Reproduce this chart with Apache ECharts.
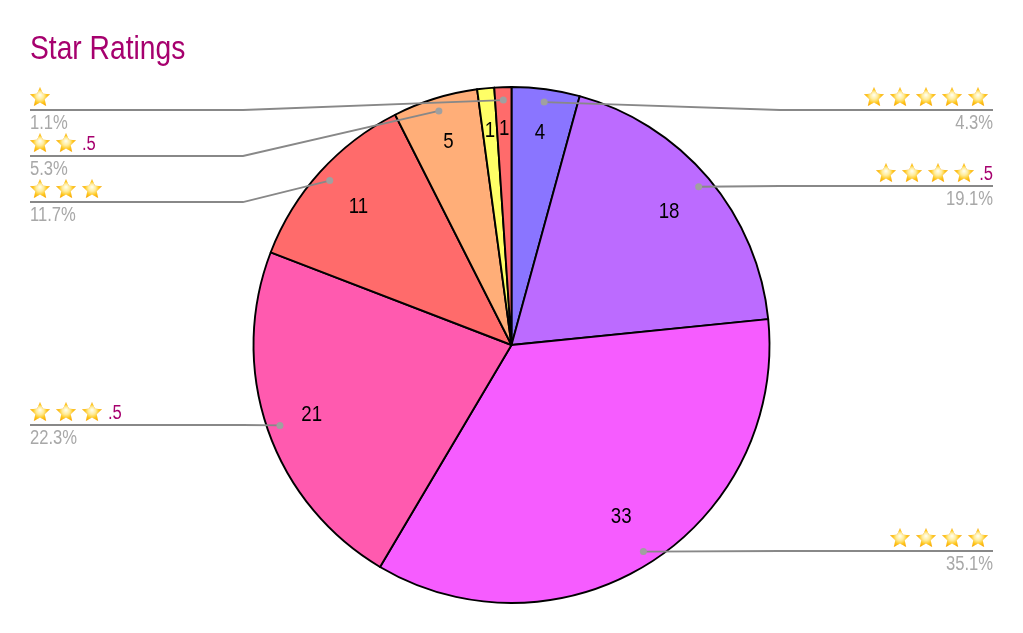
<!DOCTYPE html>
<html>
<head>
<meta charset="utf-8">
<style>html,body{margin:0;padding:0;background:#fff}#c{width:1023px;height:633px}</style>
<script src="https://cdn.jsdelivr.net/npm/echarts@6/dist/echarts.min.js"></script>
</head>
<body>
<div id="c"></div>
<script>
// data
const ratings = ['5', '4.5', '4', '3.5', '3', '2.5', '2', '1'];
const counts = [4, 18, 33, 21, 11, 5, 1, 1];
const sliceColors = ['#8a75ff', '#bc6bff', '#f65cff', '#ff5aaf', '#ff6b6b', '#ffae78', '#ffff66', '#ff6b6b'];
const legendLabelled = [true, true, true, true, true, true, false, true];
const titleText = 'Star Ratings';

// presentation
const FONT = '"Liberation Sans",Arial,sans-serif';
const SQUEEZE = 0.83;
const MAGENTA = '#a6006e';
const center = [511.5, 345], R = 258;
const lineY = [110, 186, 551, 425, 202, 156, 0, 110];
const valueLabelRadius = [0.83, 0.80, 0.79, 0.82, 0.80, 0.825, 0.835, 0.84];

function starCanvas() {
  const S = 80, c = document.createElement('canvas');
  c.width = c.height = S;
  const g = c.getContext('2d');
  const pts = [];
  for (let i = 0; i < 10; i++) {
    const r = (i % 2 ? 0.46 : 1) * S * 0.5, a = -Math.PI / 2 + i * Math.PI / 5;
    pts.push([S / 2 + r * Math.cos(a), S * 0.53 + r * Math.sin(a)]);
  }
  g.beginPath();
  pts.forEach((p, i) => i ? g.lineTo(p[0], p[1]) : g.moveTo(p[0], p[1]));
  g.closePath();
  const grad = g.createRadialGradient(S * 0.5, S * 0.4, S * 0.03, S * 0.5, S * 0.5, S * 0.48);
  grad.addColorStop(0, '#fffde8');
  grad.addColorStop(0.35, '#ffec9a');
  grad.addColorStop(0.7, '#ffc81e');
  grad.addColorStop(1, '#f9a908');
  g.fillStyle = grad;
  g.lineJoin = 'round';
  g.lineWidth = 4;
  g.strokeStyle = '#fbd88c';
  g.stroke();
  g.fill();
  return c;
}
const starImg = starCanvas();

let cum = 0;
const midpoints = counts.map(v => { const m = cum + v / 2; cum += v; return m; });
const total = cum;
const isRight = i => midpoints[i] < total / 2;

function starRow(p) {
  const rating = parseFloat(ratings[p.dataIndex]);
  const whole = Math.floor(rating);
  const stars = new Array(whole).fill('{star|}').join('{gap|}');
  return stars + (rating !== whole ? '{gap|}{half|}' : '{tail|}');
}

function squeezedText(text, x, y, size, color, align) {
  return {
    type: 'text', x: x, y: y, scaleX: SQUEEZE, silent: true,
    style: { text: text, x: 0, y: 0, align: align, verticalAlign: 'middle', fontFamily: FONT, fontSize: size, fill: color }
  };
}

const chart = echarts.init(document.getElementById('c'), null, { renderer: 'canvas' });
chart.setOption({
  animation: false,
  backgroundColor: '#fff',
  graphic: [{
    type: 'text', x: 30, y: 50, scaleX: SQUEEZE, silent: true,
    style: { text: titleText, align: 'left', verticalAlign: 'middle', fontFamily: FONT, fontSize: 34, fill: MAGENTA }
  }],
  polar: { center: center, radius: R },
  angleAxis: { type: 'value', min: 0, max: total, startAngle: 90, show: false },
  radiusAxis: { type: 'value', min: 0, max: 1, show: false },
  series: [
    {
      type: 'pie', center: center, radius: [0, R], startAngle: 90, z: 1, silent: true,
      label: { show: false }, labelLine: { show: false },
      itemStyle: { borderColor: '#000', borderWidth: 1.9 },
      data: counts.map((v, i) => ({ value: v, name: ratings[i], itemStyle: { color: sliceColors[i] } }))
    },
    {
      type: 'pie', center: center, radius: [0, R * 0.95], startAngle: 90, z: 2, silent: true,
      itemStyle: { color: 'transparent', borderWidth: 0 },
      label: {
        show: true, position: 'outside', formatter: starRow, lineHeight: 20,
        rich: {
          star: { width: 20, height: 20, backgroundColor: { image: starImg } },
          gap: { width: 6, height: 20 },
          half: { width: 13, height: 20 },
          tail: { width: 5, height: 20 }
        }
      },
      labelLine: { show: true, length: 10, length2: 10, lineStyle: { color: '#888', width: 1.8 } },
      labelLayout: function (p) {
        const i = p.dataIndex;
        if (!legendLabelled[i]) return {};
        const onRight = isRight(i), y = lineY[i];
        const start = p.labelLinePoints ? p.labelLinePoints[0] : [0, 0];
        return {
          x: onRight ? 993 : 30,
          y: y - 23,
          align: onRight ? 'right' : 'left',
          verticalAlign: 'top',
          hideOverlap: false,
          labelLinePoints: [start, [onRight ? 780 : 243, y], [onRight ? 993 : 30, y]]
        };
      },
      data: counts.map((v, i) => ({
        value: v, name: ratings[i],
        label: { show: legendLabelled[i] },
        labelLine: { show: legendLabelled[i] }
      }))
    },
    {
      type: 'scatter', coordinateSystem: 'polar', z: 5, silent: true, symbolSize: 7,
      itemStyle: { color: '#a0a0a0', opacity: 1 },
      data: midpoints.map((m, i) => legendLabelled[i] ? [0.95, m] : null).filter(Boolean)
    },
    {
      // value labels inside the slices
      type: 'custom', coordinateSystem: 'polar', z: 6, silent: true,
      encode: { radius: 0, angle: 1 },
      renderItem: function (params, api) {
        const pt = api.coord([api.value(0), api.value(1)]);
        return squeezedText(String(counts[params.dataIndex]), pt[0], pt[1], 22.5, '#000', 'center');
      },
      data: midpoints.map((m, i) => [valueLabelRadius[i], m])
    },
    {
      // percentages under the leader lines and the half-star marks above them
      type: 'custom', coordinateSystem: 'none', z: 6, silent: true,
      renderItem: function (params, api) {
        const i = params.dataIndex;
        if (!legendLabelled[i]) return { type: 'group', children: [] };
        const right = isRight(i), y = lineY[i];
        const x = right ? 993 : 30;
        const rating = parseFloat(ratings[i]), whole = Math.floor(rating);
        const kids = [squeezedText((counts[i] / total * 100).toFixed(1) + '%', x, y + 13.5, 20, '#a8a8a8', right ? 'right' : 'left')];
        if (rating !== whole) {
          kids.push(squeezedText('.5', right ? x : x + whole * 26, y - 12, 20, MAGENTA, right ? 'right' : 'left'));
        }
        return { type: 'group', children: kids };
      },
      data: counts.map((v, i) => [i])
    }
  ]
});
</script>
</body>
</html>
